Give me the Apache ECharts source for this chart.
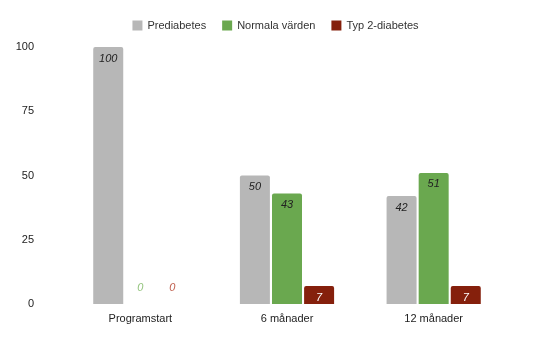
<!DOCTYPE html>
<html>
<head>
<meta charset="utf-8">
<script src="https://cdn.jsdelivr.net/npm/echarts@6/dist/echarts.min.js"></script>
<style>
html,body{margin:0;padding:0;background:#fff;}
#chart{width:551px;height:340px;}
</style>
</head>
<body>
<div id="chart"></div>
<script>
const categories = ['Programstart', '6 månader', '12 månader'];
const prediabetes = [100, 50, 42];
const normala = [0, 43, 51];
const typ2 = [0, 7, 7];
const yTicks = [0, 25, 50, 75, 100];

const colors = { pre: '#b7b7b7', norm: '#6aa84f', typ2: '#85200c' };

function buildData(values, zeroColor) {
  return values.map(v => v === 0
    ? { value: v, label: { position: 'top', distance: 11, color: zeroColor } }
    : { value: v });
}

function series(name, values, color, labelColor, zeroColor) {
  return {
    name: name,
    type: 'bar',
    barWidth: 30,
    barGap: '7%',
    data: buildData(values, zeroColor),
    itemStyle: { color: color, borderRadius: [2, 2, 0, 0] },
    label: {
      show: true,
      position: 'insideTop',
      distance: 6,
      fontStyle: 'italic',
      fontSize: 11,
      fontFamily: 'Arial, Liberation Sans, sans-serif',
      color: labelColor
    }
  };
}

const chart = echarts.init(document.getElementById('chart'));
chart.setOption({
  animation: false,
  textStyle: { fontFamily: 'Arial, Liberation Sans, sans-serif' },
  legend: {
    top: 15,
    left: 'center',
    itemWidth: 10,
    itemHeight: 10,
    itemGap: 16,
    icon: 'rect',
    textStyle: { fontSize: 11, color: '#333' },
    data: ['Prediabetes', 'Normala värden', 'Typ 2-diabetes']
  },
  grid: { left: 67, right: 44, top: 47, bottom: 36 },
  xAxis: {
    type: 'category',
    data: categories,
    axisLine: { show: false },
    axisTick: { show: false },
    axisLabel: { fontSize: 11, color: '#222', margin: 9 }
  },
  yAxis: {
    type: 'value',
    min: yTicks[0],
    max: yTicks[yTicks.length - 1],
    interval: 25,
    splitLine: { show: false },
    axisLine: { show: false },
    axisTick: { show: false },
    axisLabel: { fontSize: 11, color: '#222', margin: 33 }
  },
  series: [
    series('Prediabetes', prediabetes, colors.pre, '#222', '#999'),
    series('Normala värden', normala, colors.norm, '#222', '#93c47d'),
    series('Typ 2-diabetes', typ2, colors.typ2, '#fff', '#c0604f')
  ]
});
</script>
</body>
</html>
